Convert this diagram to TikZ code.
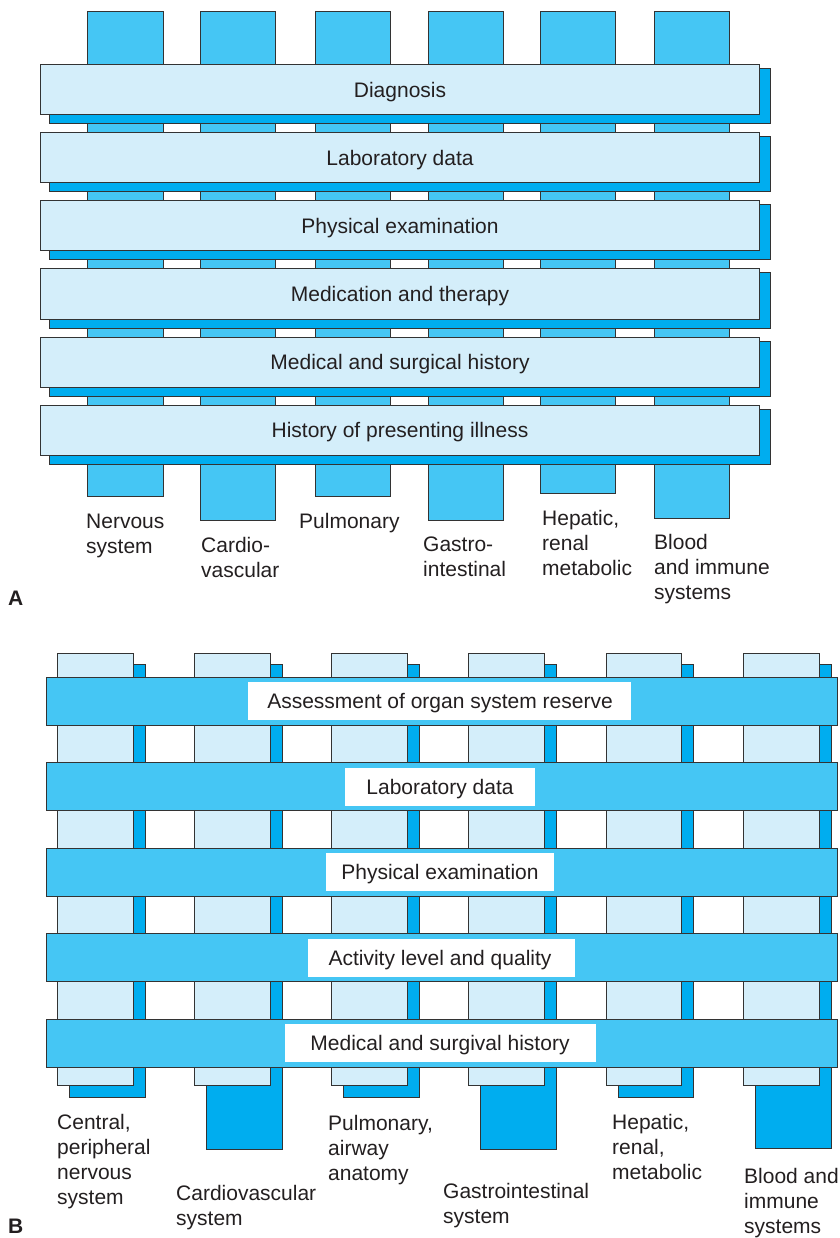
\documentclass[tikz,border=0pt]{standalone}
\usepackage{fontspec}
\setmainfont{Liberation Sans}
\definecolor{midblue}{HTML}{45C6F4}
\definecolor{darkblue}{HTML}{00ADEF}
\definecolor{lightblue}{HTML}{D4EEFA}
\definecolor{edgegray}{HTML}{333333}
\definecolor{ink}{HTML}{231F20}
\begin{document}
\begin{tikzpicture}[x=1pt,y=-1pt,
  outl/.style={draw=edgegray,line width=1pt},
  colA/.style={outl,fill=midblue},
  shad/.style={outl,fill=darkblue},
  barA/.style={outl,fill=lightblue},
  colB/.style={outl,fill=lightblue},
  barB/.style={outl,fill=midblue},
  txt/.style={font=\fontsize{21}{25.3}\selectfont,text=ink,inner sep=0pt},
  bartext/.style={txt,anchor=base},
  lbl/.style={txt,anchor=base west},
  panel/.style={font=\fontsize{21}{25}\selectfont\bfseries,text=ink,inner sep=0pt,anchor=base west}]
\useasboundingbox (0,0) rectangle (839,1238);
% ---------------- Part A ----------------
\foreach \l/\r/\b [count=\k] in {87/163/496, 200/275/520, 315/390/496, 428/503/520, 540/615/493, 654/729/518}
  \draw[colA] (\l,12) rectangle (\r,\b);
\foreach \name [count=\i from 0, evaluate=\i as \t using {65+68*\i}] in
  {Diagnosis, Laboratory data, Physical examination, Medication and therapy, Medical and surgical history, History of presenting illness}
{
  \draw[shad] (49,\t+4) rectangle (770,\t+59);
  \draw[barA] (40,\t) rectangle (759,\t+50);
  \node[bartext] (abar\i) at (400,\t+32.5) {\name};
}
\node[lbl] (a1) at (86,528) {\vtop{\hbox{Nervous}\hbox{system}}};
\node[lbl] (a2) at (201,552) {\vtop{\hbox{Cardio-}\hbox{vascular}}};
\node[lbl] (a3) at (299,528) {Pulmonary};
\node[lbl] (a4) at (423,551.5) {\vtop{\hbox{Gastro-}\hbox{intestinal}}};
\node[lbl] (a5) at (542,525) {\vtop{\hbox{Hepatic,}\hbox{renal}\hbox{metabolic}}};
\node[lbl] (a6) at (654,549) {\vtop{\hbox{Blood}\hbox{and immune}\hbox{systems}}};
\node[panel] (pA) at (8,605) {A};
% ---------------- Part B ----------------
\foreach \l/\r/\sb in {57/133/1097, 194/270/1149, 331/407/1097, 468/544/1149, 606/681/1097, 743/819/1148}
{
  \draw[shad] (\l+12,664) rectangle (\r+12,\sb);
  \draw[colB] (\l,653) rectangle (\r,1085);
}
\foreach \name/\bl/\br [count=\i from 0, evaluate=\i as \t using {677+85.5*\i}] in
  {Assessment of organ system reserve/248/631, Laboratory data/345/535, Physical examination/326/554, Activity level and quality/308/575, Medical and surgival history/285/596}
{
  \draw[barB] (46,\t) rectangle (837,\t+48);
  \fill[white] (\bl,\t+5) rectangle (\br,\t+43);
  \node[bartext] (bbar\i) at (440,\t+31.5) {\name};
}
\node[lbl] (b1) at (57,1129) {\vtop{\hbox{Central,}\hbox{peripheral}\hbox{nervous}\hbox{system}}};
\node[lbl] (b2) at (176,1200.5) {\vtop{\hbox{Cardiovascular}\hbox{system}}};
\node[lbl] (b3) at (328,1130) {\vtop{\hbox{Pulmonary,}\hbox{airway}\hbox{anatomy}}};
\node[lbl] (b4) at (443,1198) {\vtop{\hbox{Gastrointestinal}\hbox{system}}};
\node[lbl] (b5) at (612,1129) {\vtop{\hbox{Hepatic,}\hbox{renal,}\hbox{metabolic}}};
\node[lbl] (b6) at (744,1183) {\vtop{\hbox{Blood and}\hbox{immune}\hbox{systems}}};
\node[panel] (pB) at (8,1233) {B};
\end{tikzpicture}
\end{document}
